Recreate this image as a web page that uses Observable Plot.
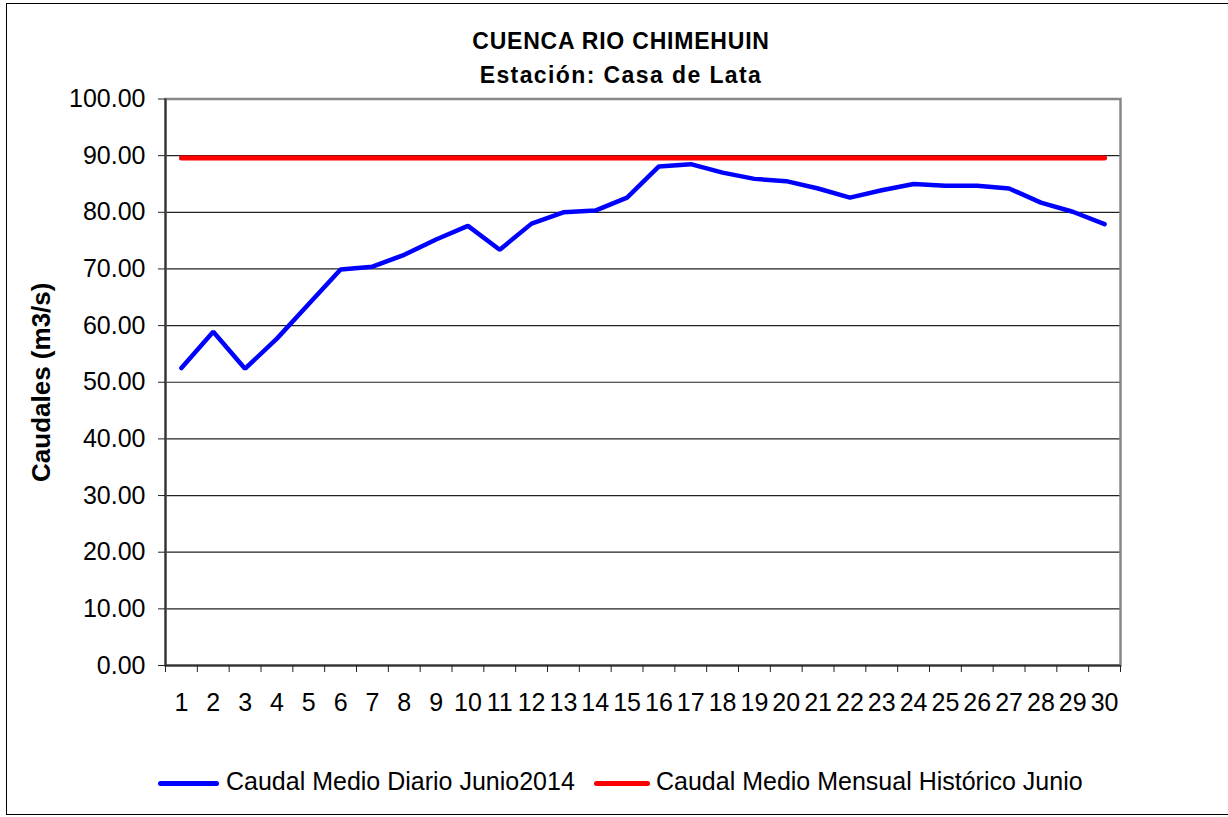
<!DOCTYPE html>
<html>
<head>
<meta charset="utf-8">
<script src="https://cdn.jsdelivr.net/npm/d3@7"></script>
<script src="https://cdn.jsdelivr.net/npm/@observablehq/plot@0.6"></script>
<style>
  html, body { margin: 0; padding: 0; background: #fff; }
  body { width: 1228px; height: 817px; position: relative; overflow: hidden;
         font-family: "Liberation Sans", Arial, sans-serif; color: #000; }
  #frame { position: absolute; left: 6px; top: 3px; width: 1240px; height: 810px;
           border-left: 1px solid #000; border-top: 1px solid #000; border-bottom: 1px solid #000; }
  .title { position: absolute; left: 321px; width: 600px; text-align: center;
           font-weight: bold; font-size: 23px; line-height: 1; }
  #t1 { top: 30px; letter-spacing: 0.8px; }
  #t2 { top: 64px; letter-spacing: 1.4px; }
  #chart { position: absolute; left: 0; top: 76px; }
  .leg { position: absolute; top: 766px; font-size: 25px; line-height: 30px; white-space: nowrap; }
  .sw { position: absolute; height: 5px; border-radius: 3px; top: 781px; }
</style>
</head>
<body>
<div id="frame"></div>
<div class="title" id="t1"></div>
<div class="title" id="t2"></div>
<div id="chart"></div>
<div class="sw" id="sw1"></div><div class="leg" id="l1"></div>
<div class="sw" id="sw2"></div><div class="leg" id="l2"></div>
<script>
const titulo = "CUENCA RIO CHIMEHUIN";
const subtitulo = "Estación: Casa de Lata";
const ejeY = "Caudales (m3/s)";
const serieDiaria = "Caudal Medio Diario Junio2014";
const serieHistorica = "Caudal Medio Mensual Histórico Junio";
const dias = [1,2,3,4,5,6,7,8,9,10,11,12,13,14,15,16,17,18,19,20,21,22,23,24,25,26,27,28,29,30];
const caudalDiario = [52.5, 58.9, 52.4, 57.7, 63.8, 69.9, 70.4, 72.5, 75.2, 77.6,
                      73.4, 78.0, 80.0, 80.3, 82.6, 88.1, 88.5, 87.0, 85.9, 85.5,
                      84.2, 82.6, 83.9, 85.0, 84.7, 84.7, 84.2, 81.7, 80.1, 77.9];
const caudalHistorico = 89.6;
const yTicks = [0, 10, 20, 30, 40, 50, 60, 70, 80, 90, 100];
const colorDiario = "#0000FF";
const colorHistorico = "#FF0000";

const diario = dias.map((d, i) => ({dia: d, valor: caudalDiario[i]}));
const historico = dias.map(d => ({dia: d, valor: caudalHistorico}));
const limites = dias.map(d => d - 0.5).concat([dias[dias.length - 1] + 0.5]);

document.getElementById("t1").textContent = titulo;
document.getElementById("t2").textContent = subtitulo;

const chart = Plot.plot({
  width: 1228,
  height: 650,
  marginTop: 22.5,
  marginBottom: 61,
  marginLeft: 165,
  marginRight: 108,
  style: {fontFamily: "'Liberation Sans', Arial, sans-serif", color: "#000", background: "transparent"},
  x: {type: "linear", domain: [limites[0], limites[limites.length - 1]]},
  y: {domain: [yTicks[0], yTicks[yTicks.length - 1]]},
  marks: [
    Plot.gridY(yTicks, {stroke: "#222", strokeOpacity: 1, strokeWidth: 1.2}),
    Plot.frame({stroke: "#888", strokeWidth: 2.5}),
    Plot.ruleX([limites[0]], {stroke: "#333", strokeWidth: 2}),
    Plot.ruleY([yTicks[0]], {stroke: "#333", strokeWidth: 2}),
    Plot.axisY({ticks: yTicks, tickSize: 7, tickPadding: 13, tickFormat: d3.format(".2f"), fontSize: 25, label: null, stroke: "#222"}),
    Plot.axisY({ticks: [], label: ejeY, labelAnchor: "center", labelArrow: "none", labelOffset: 134, fontWeight: "bold", fontSize: 26, dx: -10}),
    Plot.axisX({ticks: dias, tickSize: 0, tickPadding: 28, fontSize: 25, label: null, tickFormat: d => String(d)}),
    Plot.axisX({ticks: limites, tickSize: 7, tickFormat: () => "", label: null, stroke: "#222"}),
    Plot.lineY(historico, {x: "dia", y: "valor", stroke: colorHistorico, strokeWidth: 5, strokeLinecap: "round"}),
    Plot.lineY(diario, {x: "dia", y: "valor", stroke: colorDiario, strokeWidth: 4.5, strokeLinejoin: "miter", strokeLinecap: "round"})
  ]
});
document.getElementById("chart").appendChild(chart);

const sw1 = document.getElementById("sw1");
sw1.style.left = "158px"; sw1.style.width = "61px"; sw1.style.background = colorDiario;
const l1 = document.getElementById("l1");
l1.style.left = "226px"; l1.textContent = serieDiaria;
const sw2 = document.getElementById("sw2");
sw2.style.left = "594px"; sw2.style.width = "56px"; sw2.style.background = colorHistorico;
const l2 = document.getElementById("l2");
l2.style.left = "656px"; l2.textContent = serieHistorica;
</script>
</body>
</html>
